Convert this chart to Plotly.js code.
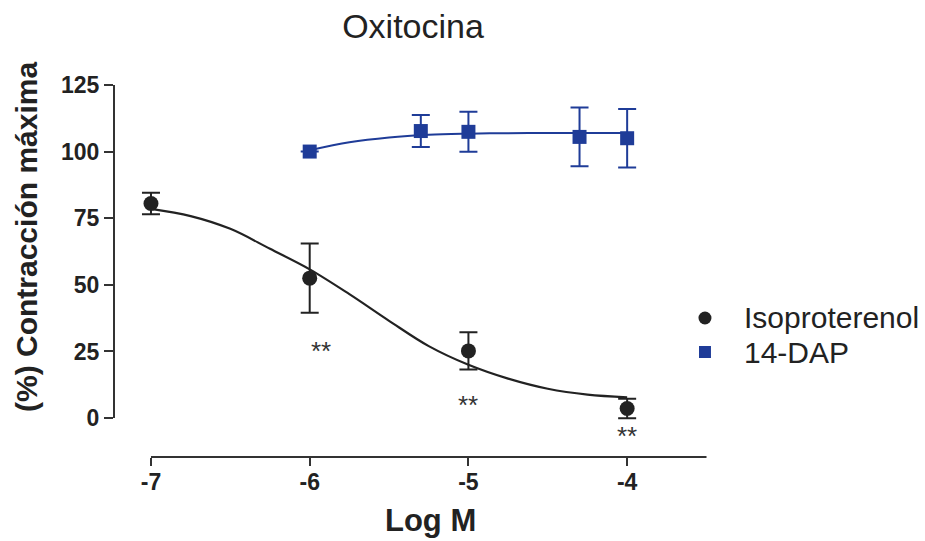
<!DOCTYPE html>
<html>
<head>
<meta charset="utf-8">
<script src="https://cdn.plot.ly/plotly-3.0.1.min.js"></script>
<style>html,body{margin:0;padding:0;background:#fff;}#chart{width:925px;height:541px;}</style>
</head>
<body>
<div id="chart"></div>
<script>
// Data
const isoName = 'Isoproterenol';
const isoX = [-7, -6, -5, -4];
const isoY = [80.5, 52.5, 25.2, 3.6];
const isoErr = [4, 13, 7, 3.7];

const dapName = '14-DAP';
const dapX = [-6, -5.3, -5, -4.3, -4];
const dapY = [100, 107.7, 107.4, 105.5, 105];
const dapErr = [null, 6, 7.5, 11, 11];   // first error bar hidden inside the symbol

// Fitted curves, read as sample points off the picture
const isoFitX = [-7, -6.75, -6.5, -6.25, -6, -5.75, -5.5, -5.25, -5, -4.75, -4.5, -4.25, -4];
const isoFitY = [78.5, 75.8, 71, 63.5, 55.8, 46.5, 36.5, 27, 20, 14.8, 11, 8.8, 7.8];
const dapFitX = [-6, -5.75, -5.5, -5.25, -5, -4.75, -4.5, -4.25, -4];
const dapFitY = [100.5, 103.5, 105.3, 106.3, 106.7, 106.9, 107, 107, 107];

// Significance marks
const starX = [-5.93, -5.0, -4.0];
const starY = [25, 5, -6.8];
const starText = ['**', '**', '**'];

const xTicks = [-7, -6, -5, -4];
const xTickText = ['-7', '-6', '-5', '-4'];
const yTicks = [0, 25, 50, 75, 100, 125];

const titleText = 'Oxitocina';
const xTitle = 'Log M';
const yTitle = '(%) Contracción máxima';

const black = '#222222';
const blue = '#1f3c98';
const axisCol = '#333333';
const textCol = '#222222';
const font = 'Liberation Sans, Arial, sans-serif';

const traces = [
  {x: isoFitX, y: isoFitY, mode: 'lines', line: {color: black, width: 2.2, shape: 'spline'}, showlegend: false, hoverinfo: 'skip'},
  {x: dapFitX, y: dapFitY, mode: 'lines', line: {color: blue, width: 2, shape: 'spline'}, showlegend: false, hoverinfo: 'skip'},
  {x: isoX, y: isoY, name: isoName, mode: 'markers', type: 'scatter', showlegend: false,
   marker: {symbol: 'circle', size: 15, color: black},
   error_y: {type: 'data', array: isoErr, visible: true, color: black, thickness: 2, width: 9}},
  {x: dapX, y: dapY, name: dapName, mode: 'markers', type: 'scatter', showlegend: false,
   marker: {symbol: 'square', size: 14, color: blue},
   error_y: {type: 'data', array: dapErr, visible: true, color: blue, thickness: 2, width: 9}}
];

const annotations = starX.map((x, i) => ({
  x: x, y: starY[i], xref: 'x', yref: 'y', text: starText[i], showarrow: false,
  font: {family: font, size: 26, color: '#333'}
}));
annotations.push({
  xref: 'paper', yref: 'paper', x: -0.1436, y: 0.5685, xanchor: 'center', yanchor: 'middle',
  text: yTitle, textangle: -90,
  showarrow: false, font: {family: font, size: 30, color: textCol, weight: 'bold'}
});
annotations.push({
  xref: 'paper', yref: 'paper', x: 0.5215, y: -0.165, xanchor: 'center', yanchor: 'middle',
  text: xTitle, showarrow: false, font: {family: font, size: 31, color: textCol, weight: 'bold'}
});
// Legend (drawn by hand to match the reference spacing)
const legendNames = [isoName, dapName];
const legendY = [0.3592, 0.2713];
legendNames.forEach((n, i) => annotations.push({
  xref: 'paper', yref: 'paper', x: 1.0363, y: legendY[i], xanchor: 'left', yanchor: 'middle',
  text: n, showarrow: false, font: {family: font, size: 30, color: textCol}
}));

const layout = {
  width: 925, height: 541,
  paper_bgcolor: '#ffffff', plot_bgcolor: '#ffffff',
  margin: {l: 114, r: 205, t: 70, b: 84},
  font: {family: font, color: textCol},
  title: {text: titleText, x: 0.4465, xanchor: 'center', y: 0.952, yanchor: 'middle',
          font: {family: font, size: 34, color: textCol}},
  xaxis: {range: [-7.233, -3.415], tickvals: xTicks, ticktext: xTickText,
          showgrid: false, zeroline: false, showline: false,
          ticks: 'outside', ticklen: 8, tickwidth: 2, tickcolor: axisCol,
          ticklabelstandoff: -4,
          tickfont: {family: font, size: 23, color: textCol, weight: 'bold'}},
  yaxis: {range: [-14.6, 130.6], tickvals: yTicks,
          showgrid: false, zeroline: false, showline: false,
          ticks: 'outside', ticklen: 9, tickwidth: 2, tickcolor: axisCol,
          tickfont: {family: font, size: 23, color: textCol, weight: 'bold'}},
  shapes: [
    {type: 'line', xref: 'paper', yref: 'y', x0: 0, x1: 0, y0: 0, y1: 125, line: {color: axisCol, width: 2}},
    {type: 'line', xref: 'x', yref: 'paper', x0: -7, x1: -3.5, y0: 0, y1: 0, line: {color: axisCol, width: 2}},
    {type: 'circle', xref: 'paper', yref: 'paper', xsizemode: 'pixel', ysizemode: 'pixel',
     xanchor: 0.9752, yanchor: legendY[0], x0: -6.5, x1: 6.5, y0: -6.5, y1: 6.5,
     fillcolor: black, line: {width: 0}},
    {type: 'rect', xref: 'paper', yref: 'paper', xsizemode: 'pixel', ysizemode: 'pixel',
     xanchor: 0.9752, yanchor: legendY[1], x0: -6, x1: 6, y0: -6, y1: 6,
     fillcolor: blue, line: {width: 0}}
  ],
  annotations: annotations,
  showlegend: false
};

Plotly.newPlot('chart', traces, layout, {displayModeBar: false, staticPlot: true});
</script>
</body>
</html>
